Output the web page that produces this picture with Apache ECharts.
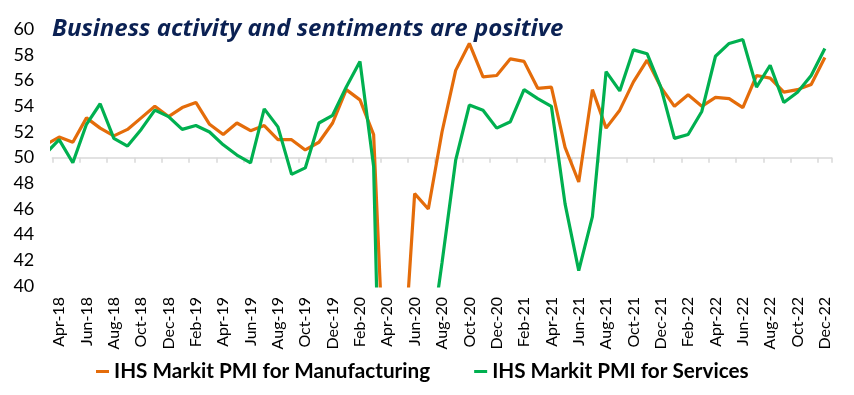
<!DOCTYPE html>
<html><head><meta charset="utf-8">
<script src="https://cdn.jsdelivr.net/npm/echarts@6/dist/echarts.min.js"></script>
<style>html,body{margin:0;padding:0;background:#fff}#c{width:854px;height:395px}</style>
</head><body><div id="c"></div>
<script>
// Months: the first entry (Mar-18) lies just left of the plot and is clipped, as in the source.
const months = ['Mar-18',
 'Apr-18','May-18','Jun-18','Jul-18','Aug-18','Sep-18','Oct-18','Nov-18','Dec-18',
 'Jan-19','Feb-19','Mar-19','Apr-19','May-19','Jun-19','Jul-19','Aug-19','Sep-19','Oct-19','Nov-19','Dec-19',
 'Jan-20','Feb-20','Mar-20','Apr-20','May-20','Jun-20','Jul-20','Aug-20','Sep-20','Oct-20','Nov-20','Dec-20',
 'Jan-21','Feb-21','Mar-21','Apr-21','May-21','Jun-21','Jul-21','Aug-21','Sep-21','Oct-21','Nov-21','Dec-21',
 'Jan-22','Feb-22','Mar-22','Apr-22','May-22','Jun-22','Jul-22','Aug-22','Sep-22','Oct-22','Nov-22','Dec-22'];

const manufacturing = [51.0,
 51.6,51.2,53.1,52.3,51.7,52.2,53.1,54.0,53.2,
 53.9,54.3,52.6,51.8,52.7,52.1,52.5,51.4,51.4,50.6,51.2,52.7,
 55.3,54.5,51.8,27.4,30.8,47.2,46.0,52.0,56.8,58.9,56.3,56.4,
 57.7,57.5,55.4,55.5,50.8,48.1,55.3,52.3,53.7,55.9,57.6,55.5,
 54.0,54.9,54.0,54.7,54.6,53.9,56.4,56.2,55.1,55.3,55.7,57.8];

const services = [50.3,
 51.4,49.6,52.6,54.2,51.5,50.9,52.2,53.7,53.2,
 52.2,52.5,52.0,51.0,50.2,49.6,53.8,52.4,48.7,49.2,52.7,53.3,
 55.5,57.5,49.3,5.4,12.6,33.7,34.2,41.8,49.8,54.1,53.7,52.3,
 52.8,55.3,54.6,54.0,46.4,41.2,45.4,56.7,55.2,58.4,58.1,55.5,
 51.5,51.8,53.6,57.9,58.9,59.2,55.5,57.2,54.3,55.1,56.4,58.5];

const seriesNames = ['IHS Markit PMI for Manufacturing','IHS Markit PMI for Services'];
const titleText = 'Business activity and sentiments are positive';
const yMin = 40, yMax = 60, yStep = 2, refLine = 50;

const shown = months.slice(1);             // axis categories Apr-18 .. Dec-22
const toPairs = vals => vals.map((v, i) => [i - 0.5, v]); // category centres on the value scale

const gridTop = 29.3, gridBottom = 109, H = 395;
const gridH = H - gridTop - gridBottom;
const refOffset = -(refLine - yMin) / (yMax - yMin) * gridH;

const chart = echarts.init(document.getElementById('c'), null, {renderer:'canvas'});
const font = 'Lato';
chart.setOption({
  animation: false,
  backgroundColor: '#fff',
  title: {
    text: titleText, left: 47, top: 12,
    textStyle: {fontFamily: 'Open Sans', fontSize: 24, fontWeight: 'bold', fontStyle: 'italic', color: '#0B2153'}
  },
  legend: {
    left: 91, top: 356, icon: 'rect', itemWidth: 13, itemHeight: 3, itemGap: 44,
    data: seriesNames,
    textStyle: {fontFamily: font, fontSize: 20.7, fontWeight: 'bold', color: '#000'}
  },
  grid: {left: 52.3, right: 22.3, top: gridTop, bottom: gridBottom, containLabel: false},
  xAxis: [
    {type: 'category', data: shown, boundaryGap: true, position: 'bottom',
     axisLine: {show: false}, axisTick: {show: false}, splitLine: {show: false},
     axisLabel: {rotate: 90, interval: 1, fontFamily: font, fontSize: 16, color: '#000', margin: 11}},
    {type: 'category', data: shown, boundaryGap: true, position: 'bottom', offset: refOffset,
     axisLine: {show: true, onZero: false, lineStyle: {color: '#D9D9D9', width: 1.5}},
     axisTick: {show: true, interval: 1, length: 5, lineStyle: {color: '#D9D9D9', width: 1.5}},
     axisLabel: {show: false}, splitLine: {show: false}},
    {type: 'value', min: 0, max: shown.length, show: false, splitLine: {show: false}}
  ],
  yAxis: {
    type: 'value', min: yMin, max: yMax, interval: yStep,
    axisLine: {show: false}, axisTick: {show: false}, splitLine: {show: false},
    axisLabel: {fontFamily: font, fontSize: 18, color: '#000', margin: 18}
  },
  series: [
    {name: seriesNames[0], type: 'line', xAxisIndex: 2, data: toPairs(manufacturing),
     showSymbol: false, symbol: 'none', clip: true, itemStyle: {color: '#E46C0A'},
     lineStyle: {color: '#E46C0A', width: 3.2}, z: 3},
    {name: seriesNames[1], type: 'line', xAxisIndex: 2, data: toPairs(services),
     showSymbol: false, symbol: 'none', clip: true, itemStyle: {color: '#00B050'},
     lineStyle: {color: '#00B050', width: 3.2}, z: 4}
  ]
});
</script></body></html>
